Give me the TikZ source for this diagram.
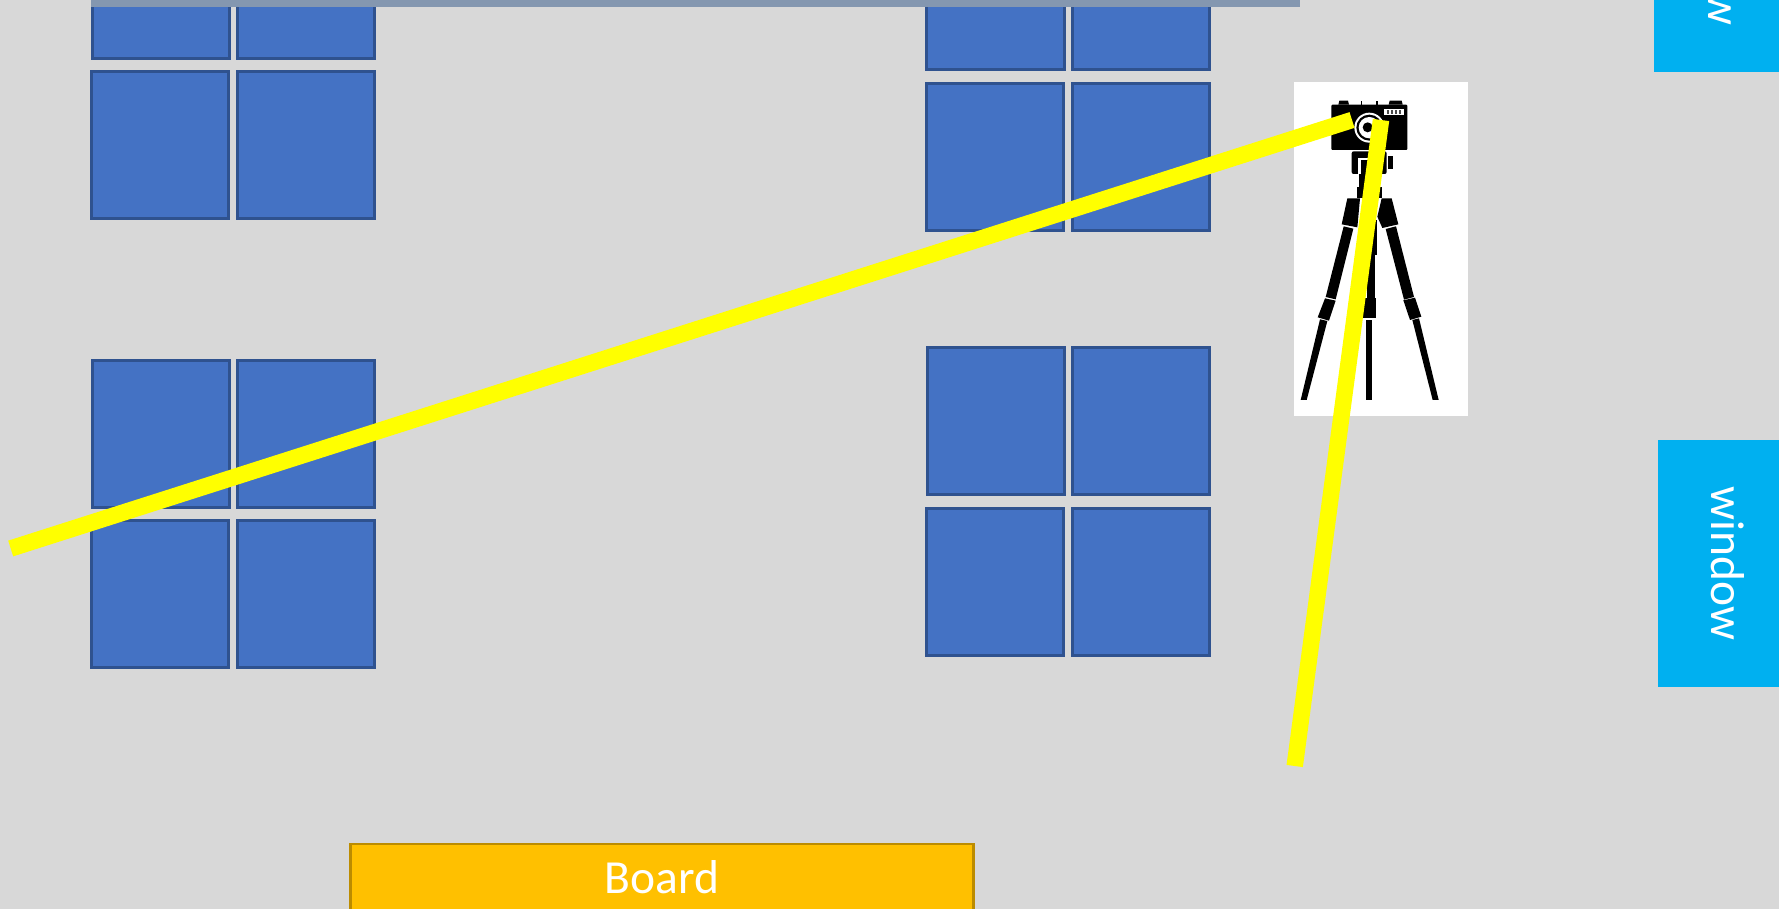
\documentclass[tikz,border=0pt]{standalone}
\usepackage{fontspec}
\setmainfont{Carlito}
\definecolor{bgc}{HTML}{D8D8D8}
\definecolor{panef}{HTML}{4472C4}
\definecolor{panee}{HTML}{2F528F}
\definecolor{barc}{HTML}{8497B0}
\definecolor{cyanb}{HTML}{00B0F0}
\definecolor{boardf}{HTML}{FFC000}
\definecolor{boarde}{HTML}{BC8C00}
\definecolor{beam}{HTML}{FFFF00}
\tikzset{
  panebox/.style={rectangle,draw=panee,fill=panef,line width=2.7pt,inner sep=0pt,outer sep=0pt},
  cyanbox/.style={rectangle,fill=cyanb,inner sep=0pt,outer sep=0pt},
  barbox/.style={rectangle,fill=barc,inner sep=0pt,outer sep=0pt},
  boardbox/.style={rectangle,draw=boarde,fill=boardf,line width=2.7pt,inner sep=0pt,outer sep=0pt},
  winlabel/.style={text=white,rotate=-90,anchor=base,inner sep=0pt,font=\fontsize{47.5}{56}\selectfont},
  boardlabel/.style={text=white,anchor=base,inner sep=0pt,font=\fontsize{47.5}{56}\selectfont},
  beamline/.style={draw=beam,line width=16.5pt,line cap=butt},
  ink/.style={fill=black,draw=none},
  paper/.style={fill=white,draw=none},
}
% name, x1, y1, x2, y2 (outer edges, pixels)
\newcommand{\paneat}[5]{%
  \pgfmathsetmacro{\pw}{#4-#2-2.7}%
  \pgfmathsetmacro{\ph}{#5-#3-2.7}%
  \pgfmathsetmacro{\pcx}{(#2+#4)/2}%
  \pgfmathsetmacro{\pcy}{(#3+#5)/2}%
  \node[panebox,minimum width=\pw pt,minimum height=\ph pt] (#1) at (\pcx,\pcy) {};}
\begin{document}
\begin{tikzpicture}[x=1pt,y=-1pt]
\useasboundingbox (0,0) rectangle (1779,909);
\clip (0,0) rectangle (1779,909);
\fill[bgc] (0,0) rectangle (1779,909);
% windows
\paneat{aa}{91}{-90}{231}{60}
\paneat{ab}{236}{-90}{376}{60}
\paneat{ac}{90}{70}{230}{220}
\paneat{ad}{236}{70}{376}{220}
\paneat{ba}{91}{359}{231}{508.5}
\paneat{bb}{236}{359}{376}{508.5}
\paneat{bc}{90}{519}{230}{668.5}
\paneat{bd}{236}{519}{376}{668.5}
\paneat{ca}{925}{-79}{1066}{71}
\paneat{cb}{1071}{-79}{1211}{71}
\paneat{cc}{925}{82}{1065}{232}
\paneat{cd}{1071}{82}{1211}{232}
\paneat{da}{926}{346}{1066}{496}
\paneat{db}{1071}{346}{1211}{496}
\paneat{dc}{925}{507}{1065}{657}
\paneat{dd}{1071}{507}{1211}{657}
% top bar
\node[barbox,minimum width=1209pt,minimum height=20pt] (bar) at (695.5,-3) {};
% side windows
\node[cyanbox,minimum width=135pt,minimum height=247pt] (wintop) at (1721.5,-51.5) {};
\node[winlabel] (wintoplabel) at (1708,-51.5) {window};
\node[cyanbox,minimum width=131pt,minimum height=247pt] (winside) at (1723.5,563.5) {};
\node[winlabel] (winsidelabel) at (1711.7,563.5) {window};
% board
\node[boardbox,minimum width=623pt,minimum height=120pt] (board) at (662.3,904) {};
\node[boardlabel] (boardlabel) at (662,893) {Board};
% camera on tripod
\node[rectangle,fill=white,inner sep=0pt,outer sep=0pt,minimum width=174pt,minimum height=334pt] (photo) at (1381,249) {};
\begin{scope}[shift={(1270,70)},x=0.33333pt,y=-0.33333pt]
  \fill[ink,rounded corners=1pt] (184,104) rectangle (412,240);
  \fill[ink] (205,104) -- (208,92) -- (234,92) -- (237,104) -- cycle;
  \fill[ink] (356,104) -- (359,92) -- (395,92) -- (398,104) -- cycle;
  \fill[ink] (272,92) rectangle (277,104);
  \fill[ink] (318,92) rectangle (323,104);
  \fill[paper] (298,173) circle (45);
  \fill[ink] (298,173) circle (39);
  \fill[paper] (298,173) circle (32);
  \fill[ink] (293,172) circle (15);
  \fill[paper] (343,117) rectangle (402,135);
  \foreach \vx in {351,363,375,387}{\fill[black!70] (\vx,121) rectangle (\vx+5,131);}
  \fill[ink,rounded corners=2pt] (245,244) rectangle (350,312);
  \fill[paper] (265,265) rectangle (272,312);
  \fill[paper] (265,265) rectangle (335,270);
  \fill[ink] (354,258) rectangle (370,298);
  \fill[ink] (268,312) rectangle (330,350);
  \fill[ink] (262,350) rectangle (335,385);
  \fill[ink] (232,385) -- (270,385) -- (262,472) -- (215,463) -- cycle;
  \fill[ink] (335,385) -- (365,385) -- (385,463) -- (337,474) -- (322,440) -- cycle;
  \fill[ink] (221,469) -- (250,476) -- (197,688) -- (167,681) -- cycle;
  \fill[ink] (165,685) -- (197,692) -- (177,752) -- (143,742) -- cycle;
  \fill[ink] (150,748) -- (172,753) -- (110,990) -- (92,990) -- cycle;
  \fill[ink] (347,477) -- (378,469) -- (432,681) -- (402,689) -- cycle;
  \fill[ink] (400,691) -- (435,683) -- (454,740) -- (420,750) -- cycle;
  \fill[ink] (427,750) -- (447,745) -- (506,990) -- (488,990) -- cycle;
  \fill[ink] (300,450) rectangle (320,555);
  \fill[ink] (292,555) rectangle (314,685);
  \fill[ink] (280,685) rectangle (317,745);
  \fill[ink] (287,749) rectangle (307,990);
\end{scope}
% sight lines
\coordinate (lensA) at (1352,120);
\coordinate (lensB) at (1381,120);
\coordinate (farA) at (10.7,548.5);
\coordinate (farB) at (1294.7,766);
\draw[beamline] (farA) -- (lensA);
\draw[beamline] (farB) -- (lensB);
\end{tikzpicture}
\end{document}
